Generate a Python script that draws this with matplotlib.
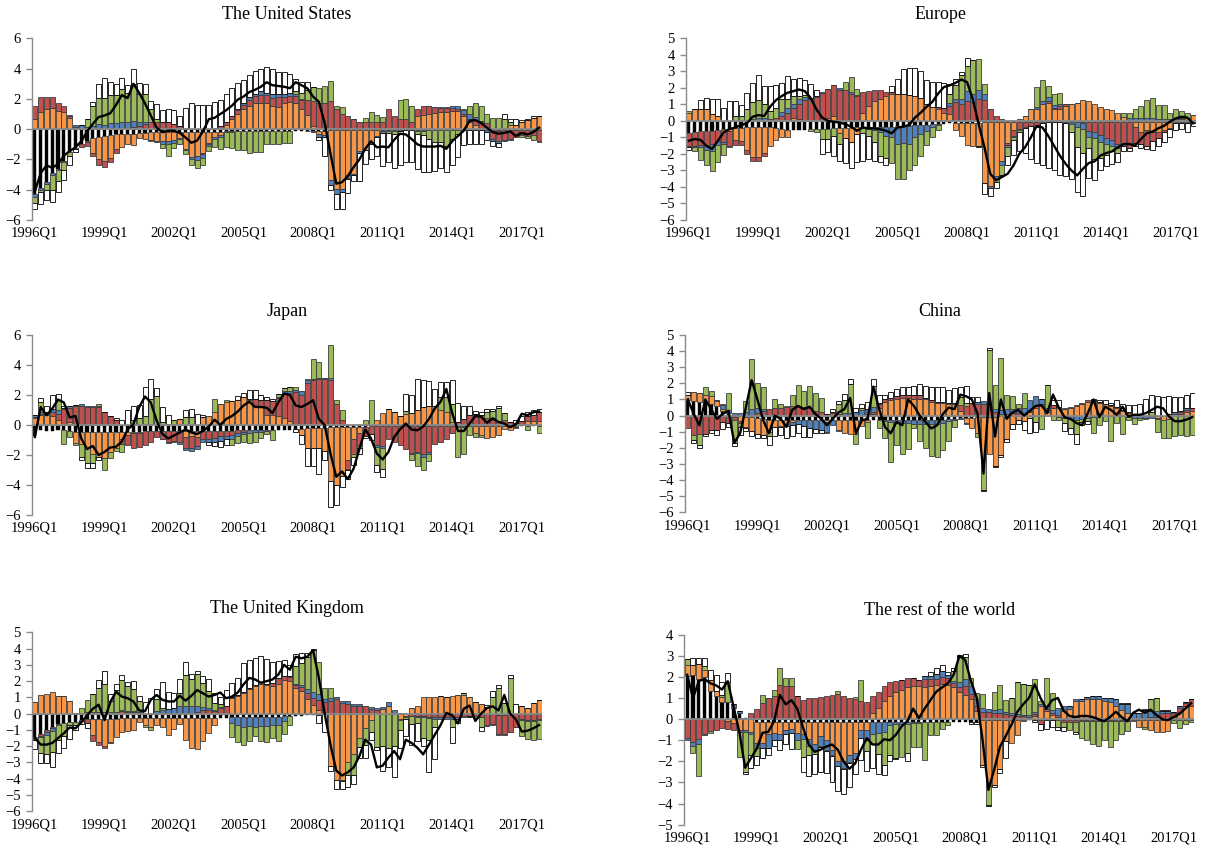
import numpy as np
import matplotlib

matplotlib.use("Agg")
import matplotlib.pyplot as plt

plt.rcParams["font.family"] = ["Liberation Serif", "DejaVu Serif"]

quarters = [f"{y}Q{q}" for y in range(1996, 2018) for q in range(1, 5)]

# ---- The United States ----
us_black = [-4.3, -3.9, -3.5, -2.9, -2.6, -2.1, -1.5, -1.25, -1.0, -0.8,
            -0.6, -0.5, -0.45, -0.4, -0.35, -0.3, -0.3, -0.3, -0.25, -0.25,
            -0.2, -0.2, -0.2, -0.2, -0.2, -0.2, -0.2, -0.2, -0.2, -0.2,
            -0.2, -0.2, -0.2, -0.15, -0.15, -0.15, -0.15, -0.15, -0.15, -0.15,
            -0.1, -0.1, -0.1, -0.1, -0.1, -0.1, -0.1, -0.1, -0.1, -0.1,
            -0.1, -0.05, -0.05, -0.05, -0.05, -0.05, -0.05, -0.05, -0.05, -0.05,
            -0.05, -0.05, -0.05, -0.05, -0.05, -0.05, -0.05, -0.05, -0.05, -0.05,
            -0.05, -0.05, -0.05, -0.05, -0.05, -0.05, -0.05, -0.05, -0.05, -0.05,
            -0.05, -0.05, -0.05, -0.05, -0.05, -0.05, -0.05, -0.05]
us_orange = [0.7, 1.15, 1.3, 1.4, 1.2, 1.1, 0.75, 0.1, 0.0, -0.05,
             -0.95, -1.5, -1.65, -1.5, -0.95, -0.85, -0.7, -0.75, -0.35, -0.4,
             -0.5, -0.55, -0.6, -0.55, -0.5, -0.4, -1.1, -1.65, -1.55, -1.4,
             -0.7, -0.3, -0.2, 0.25, 0.7, 1.0, 1.3, 1.5, 1.7, 1.7,
             1.7, 1.5, 1.45, 1.75, 1.8, 1.7, 1.3, 0.95, 0.2, -0.2,
             -0.3, -3.3, -3.9, -3.9, -3.0, -2.9, -1.4, -1.3, -0.9, -0.4,
             -0.1, -0.05, 0.0, 0.0, 0.0, 0.0, 0.85, 0.95, 1.0, 1.05,
             1.1, 1.15, 1.2, 1.2, 0.9, 0.5, 0.3, 0.1, 0.0, -0.1,
             -0.05, 0.1, 0.3, 0.3, 0.5, 0.6, 0.75, 0.85]
us_red = [0.8, 0.95, 0.85, 0.75, 0.5, 0.4, 0.15, 0.05, -0.15, -0.25,
          -0.25, -0.4, -0.4, -0.25, -0.3, 0.05, 0.1, 0.15, 0.2, 0.35,
          0.45, 0.5, 0.5, 0.5, 0.35, 0.2, 0.1, 0.0, -0.05, -0.05,
          -0.05, 0.1, 0.2, 0.25, 0.15, 0.25, 0.3, 0.45, 0.5, 0.55,
          0.55, 0.55, 0.7, 0.4, 0.4, 0.5, 0.6, 1.0, 1.65, 1.75,
          1.75, 1.85, 1.3, 1.0, 0.85, 0.65, 0.45, 0.5, 0.5, 0.5,
          0.5, 1.3, 0.85, 0.7, 0.7, 0.5, 0.45, 0.6, 0.5, 0.4,
          0.3, 0.25, 0.2, 0.15, 0.1, 0.2, 0.3, 0.35, 0.4, -0.5,
          -0.7, -0.65, -0.6, -0.5, -0.35, -0.4, -0.35, -0.75]
us_blue = [-0.15, -0.15, -0.15, -0.15, -0.1, -0.05, 0.05, 0.15, 0.25, 0.15,
           0.2, 0.35, 0.3, 0.4, 0.4, 0.4, 0.4, 0.4, 0.25, 0.1,
           -0.05, -0.1, -0.2, -0.25, -0.2, -0.05, -0.1, -0.15, -0.25, -0.25,
           -0.15, -0.15, -0.1, -0.05, -0.05, 0.1, 0.1, 0.15, 0.15, 0.25,
           0.15, 0.25, 0.15, 0.2, 0.2, 0.1, 0.1, -0.05, -0.1, -0.2,
           -0.15, -0.35, -0.35, -0.2, -0.2, -0.1, -0.1, -0.05, -0.05, -0.05,
           -0.1, -0.05, -0.1, -0.05, 0.0, 0.0, -0.05, -0.05, 0.0, 0.0,
           0.05, 0.05, 0.1, 0.2, 0.25, 0.3, 0.2, 0.1, -0.15, -0.15,
           -0.1, -0.05, -0.05, 0.0, 0.0, 0.0, 0.0, 0.0]
us_green = [-0.45, -0.1, -0.4, -0.95, -0.7, -0.55, -0.3, -0.05, 0.05, 0.55,
            1.3, 1.7, 1.75, 1.85, 1.85, 2.2, 1.9, 2.45, 1.9, 1.85,
            0.9, 0.2, -0.25, -0.75, -0.35, -0.3, -0.25, -0.35, -0.5, -0.45,
            -0.35, -0.55, -0.8, -1.0, -1.05, -1.2, -1.2, -1.4, -1.35, -1.35,
            -0.9, -0.9, -0.85, -0.8, -0.8, 0.2, 0.4, 0.65, 0.95, 1.0,
            1.1, 1.35, 0.2, 0.45, -0.05, 0.0, 0.0, 0.25, 0.6, 0.45,
            0.3, -0.1, -0.2, 1.25, 1.3, 1.05, -0.25, -0.3, -0.6, -0.8,
            -0.8, -1.05, -0.6, -0.3, 0.1, 0.5, 0.9, 1.0, 0.6, 0.75,
            0.75, 0.6, 0.2, 0.0, -0.1, -0.15, -0.3, -0.05]
us_white = [-0.4, -0.8, -0.6, -0.8, -0.75, -0.65, -0.6, -0.2, 0.0, 0.0,
            0.3, 0.95, 1.3, 0.85, 0.75, 0.75, 0.5, 1.0, 0.7, 0.65,
            0.5, 0.95, 0.75, 0.85, 0.9, 0.65, 1.3, 1.7, 1.6, 1.6,
            1.6, 1.7, 1.7, 1.8, 1.9, 1.7, 1.55, 1.5, 1.5, 1.5,
            1.7, 1.65, 1.45, 1.45, 1.25, 0.8, 0.7, 0.5, 0.0, -0.2,
            -1.2, -0.3, -1.0, -1.1, -0.9, -0.4, -1.9, -0.9, -1.0, -1.3,
            -2.2, -1.9, -2.2, -2.3, -2.1, -2.1, -2.3, -2.4, -2.2, -1.9,
            -1.7, -1.7, -1.7, -1.5, -1.0, -0.95, -0.9, -0.9, -0.5, -0.3,
            -0.3, 0.3, 0.2, 0.4, 0.1, 0.1, 0.1, 0.0]
us_line = [-4.1, -2.9, -2.4, -2.55, -2.3, -1.75, -1.45, -1.2, -0.8, -0.15,
           0.35, 0.8, 0.9, 1.05, 1.6, 2.25, 2.05, 3.0, 2.4, 1.7,
           0.9, 0.1, -0.2, -0.1, -0.1, -0.25, -0.55, -0.9, -0.75, -0.15,
           0.65, 0.75, 1.0, 1.25, 1.55, 1.95, 2.15, 2.45, 2.6, 2.8,
           3.1, 2.9, 2.85, 2.8, 2.7, 3.1, 2.9, 2.7, 2.15, 1.8,
           0.4, -1.6, -3.6, -3.5, -3.1, -2.5, -2.0, -1.3, -0.8, -1.2,
           -1.15, -1.2, -0.7, -0.3, -0.35, -0.65, -1.0, -1.15, -1.15, -1.15,
           -1.1, -1.3, -0.8, -0.45, -0.1, 0.55, 0.6, 0.4, 0.1, -0.2,
           -0.3, -0.25, -0.15, -0.45, -0.25, -0.35, -0.2, 0.1]

# ---- Europe ----
eu_black = [-0.75, -0.65, -0.6, -0.6, -0.6, -0.55, -0.5, -0.5, -0.45, -0.45,
            -0.4, -0.4, -0.4, -0.4, -0.4, -0.45, -0.5, -0.55, -0.55, -0.55,
            -0.55, -0.5, -0.5, -0.5, -0.5, -0.45, -0.45, -0.45, -0.45, -0.4,
            -0.4, -0.4, -0.4, -0.35, -0.35, -0.35, -0.3, -0.3, -0.3, -0.25,
            -0.25, -0.25, -0.2, -0.2, -0.2, -0.15, -0.15, -0.1, -0.1, -0.1,
            -0.1, -0.05, -0.05, -0.05, -0.05, -0.05, -0.05, -0.05, -0.05, -0.05,
            -0.05, -0.05, -0.05, -0.05, -0.05, -0.05, -0.05, -0.05, -0.05, -0.05,
            -0.05, -0.05, -0.05, -0.05, -0.05, -0.05, -0.05, -0.05, -0.05, -0.05,
            -0.05, -0.05, -0.05, -0.05, -0.05, -0.05, -0.05, -0.05]
eu_orange = [0.45, 0.75, 0.7, 0.7, 0.4, 0.3, 0.0, -0.1, -0.7, -0.75,
             -1.35, -1.8, -1.8, -1.55, -1.1, -0.7, -0.45, -0.4, 0.2, 0.1,
             0.0, 0.0, 0.0, 0.0, 0.2, 0.3, -0.3, -0.6, -0.85, -0.4,
             0.5, 0.9, 1.2, 1.35, 1.5, 1.6, 1.65, 1.6, 1.55, 1.5,
             1.4, 1.0, 0.85, 0.75, 0.5, 0.4, -0.4, -0.8, -1.35, -1.45,
             -1.4, -3.7, -3.9, -3.3, -2.4, -1.3, -0.5, 0.1, 0.3, 0.7,
             0.75, 1.0, 1.1, 0.7, 0.7, 0.9, 1.0, 1.1, 1.25, 1.2,
             1.0, 0.85, 0.75, 0.65, 0.5, 0.25, 0.05, -0.3, -0.6, -0.5,
             -0.6, -0.65, -0.5, -0.4, 0.05, 0.1, 0.2, 0.35]
eu_red = [-0.75, -0.85, -0.85, -0.9, -0.8, -0.65, -0.8, -0.9, -0.3, -0.25,
          -0.25, -0.25, -0.25, -0.15, 0.0, 0.15, 0.3, 0.5, 0.6, 0.9,
          1.25, 1.35, 1.45, 1.7, 1.75, 1.9, 1.9, 1.85, 1.6, 1.5,
          1.25, 0.9, 0.7, 0.5, 0.25, 0.15, 0.0, 0.0, 0.0, 0.0,
          0.0, 0.0, 0.0, 0.1, 0.3, 0.5, 1.15, 1.05, 1.2, 1.15,
          1.3, 1.25, 0.7, 0.3, 0.1, -0.1, -0.35, -0.45, -0.3, -0.25,
          -0.3, -0.1, 0.1, 0.1, 0.2, 0.1, 0.05, 0.0, -0.1, -0.55,
          -0.6, -0.8, -1.0, -1.1, -1.35, -1.35, -1.6, -1.0, -0.75, -0.95,
          -0.55, -0.35, -0.15, -0.05, -0.05, -0.05, -0.05, -0.05]
eu_blue = [-0.1, -0.1, -0.15, -0.25, -0.4, -0.25, -0.1, -0.05, 0.0, 0.05,
           0.05, 0.1, 0.2, 0.15, 0.1, 0.05, 0.25, 0.3, 0.25, 0.3,
           0.2, 0.05, 0.05, 0.05, 0.0, 0.0, 0.1, 0.0, 0.15, 0.05,
           -0.05, -0.1, -0.15, -0.35, -0.55, -0.65, -1.1, -1.05, -1.1, -0.75,
           -0.55, -0.35, -0.2, -0.05, 0.0, 0.2, 0.2, 0.3, 0.6, 0.5,
           0.6, 0.4, -0.1, -0.15, -0.2, -0.15, -0.05, -0.05, 0.0, 0.0,
           0.1, 0.2, 0.25, 0.15, 0.15, 0.0, -0.15, -0.35, -0.35, -0.35,
           -0.4, -0.4, -0.35, -0.35, -0.25, -0.1, 0.1, 0.15, 0.15, 0.15,
           0.15, 0.1, 0.1, 0.1, 0.05, 0.05, 0.0, 0.0]
eu_green = [0.15, -0.25, -0.75, -0.95, -1.25, -1.05, -0.65, -0.05, 0.3, 0.25,
            0.65, 1.05, 1.05, 0.85, 0.5, 0.6, 0.75, 0.5, 0.45, 0.2,
            0.1, -0.1, -0.2, -0.6, -0.6, -0.45, -0.65, 0.5, 0.9, 0.4,
            -0.3, -0.4, -0.75, -1.45, -1.35, -1.55, -2.1, -2.15, -1.6, -1.7,
            -1.35, -0.85, -0.6, -0.3, 0.0, 0.55, 0.85, 1.4, 1.55, 2.05,
            1.85, 0.6, 0.0, -0.2, -0.6, -0.5, -0.2, -0.15, -0.1, 0.0,
            1.2, 1.25, 0.65, 0.7, 0.65, -0.1, -0.5, -1.2, -1.45, -0.7,
            -1.25, -1.0, -0.65, -0.3, -0.3, 0.25, 0.3, 0.55, 0.75, 1.1,
            1.25, 0.85, 0.85, 0.4, 0.6, 0.45, 0.3, 0.0]
eu_white = [-0.15, 0.0, 0.55, 0.7, 0.9, 1.0, 0.8, 1.2, 0.9, 0.65,
            1.0, 1.15, 1.5, 1.1, 1.5, 1.4, 1.0, 1.4, 1.05, 1.1,
            0.9, 0.85, 0.4, -0.9, -0.8, -1.25, -1.0, -1.5, -1.55, -1.7,
            -1.7, -1.4, -1.15, -0.35, -0.4, 0.35, 0.9, 1.55, 1.65, 1.7,
            1.6, 1.45, 1.5, 1.5, 1.5, 0.6, 0.35, 0.2, 0.45, 0.0,
            -0.1, -0.7, -0.5, -0.35, -0.1, -0.6, -0.9, -1.1, -1.5, -2.0,
            -2.2, -2.55, -2.8, -2.95, -3.2, -3.2, -2.8, -2.7, -2.6, -1.8,
            -1.25, -0.7, -0.7, -0.8, -0.55, -0.3, -0.2, -0.2, -0.25, -0.2,
            -0.55, -0.5, -0.55, -0.5, -0.45, -0.4, -0.6, -0.2]
eu_line = [-1.2, -1.1, -1.15, -1.5, -1.7, -1.2, -0.7, -0.5, -0.4, -0.25,
           -0.15, 0.25, 0.35, 0.3, 0.85, 1.25, 1.5, 1.7, 1.8, 1.9,
           1.8, 1.4, 0.7, 0.2, 0.0, -0.05, -0.1, -0.2, -0.35, -0.6,
           -0.4, -0.45, -0.45, -0.5, -0.6, -0.75, -0.4, -0.35, -0.25, 0.2,
           0.5, 0.85, 1.15, 1.65, 2.05, 2.15, 2.3, 2.5, 2.35, 1.3,
           -0.2, -1.6, -3.2, -3.6, -3.4, -3.2, -2.7, -2.0, -1.6, -1.0,
           -0.3, -0.4, -0.9, -1.5, -2.1, -2.6, -3.0, -3.3, -2.9, -2.55,
           -2.45, -2.1, -1.95, -1.85, -1.6, -1.4, -1.4, -1.5, -1.1, -0.75,
           -0.65, -0.45, -0.3, -0.05, 0.15, 0.25, 0.2, -0.15]

# ---- Japan ----
jp_black = [-0.75, -0.35, -0.4, -0.4, -0.35, -0.35, -0.4, -0.45, -0.45, -0.45,
            -0.45, -0.45, -0.45, -0.45, -0.45, -0.45, -0.45, -0.45, -0.45, -0.4,
            -0.4, -0.4, -0.4, -0.4, -0.4, -0.4, -0.4, -0.4, -0.4, -0.4,
            -0.4, -0.4, -0.4, -0.4, -0.4, -0.35, -0.35, -0.35, -0.35, -0.35,
            -0.3, -0.3, -0.3, -0.3, -0.3, -0.25, -0.25, -0.2, -0.2, -0.2,
            -0.2, -0.15, -0.1, -0.1, -0.1, -0.1, -0.1, -0.1, -0.05, -0.05,
            -0.05, -0.05, -0.05, -0.05, -0.05, -0.05, -0.05, -0.05, -0.05, -0.05,
            -0.05, -0.05, -0.05, -0.05, -0.05, -0.05, -0.05, -0.05, -0.05, -0.05,
            -0.05, -0.05, -0.05, -0.05, -0.05, -0.05, -0.05, -0.05]
jp_orange = [0.5, 0.7, 0.7, 0.6, 0.35, 0.1, 0.2, -0.75, -0.8, -1.1,
             -1.5, -1.7, -1.75, -1.35, -1.05, -0.5, -0.2, -0.1, -0.05, 0.0,
             0.0, 0.05, 0.1, 0.05, 0.1, 0.4, -0.4, -0.3, -0.4, 0.55,
             0.6, 0.9, 1.4, 1.55, 1.6, 1.7, 1.85, 1.7, 1.3, 1.25,
             0.7, 0.65, 0.6, 0.5, 0.3, 0.1, -0.4, -1.35, -1.35, -1.35,
             -1.5, -3.6, -3.9, -3.3, -2.2, -0.85, -0.4, 0.0, 0.0, 0.35,
             0.8, 1.1, 0.9, 0.6, 0.75, 0.8, 1.0, 1.2, 1.25, 1.3,
             1.0, 0.9, 0.2, 0.0, 0.0, 0.0, -0.45, -0.6, -0.8, -0.75,
             -0.6, -0.2, -0.3, -0.1, 0.1, 0.3, 0.3, 0.3]
jp_red = [0.05, 0.05, 0.05, 0.25, 0.4, 0.95, 0.95, 1.25, 1.3, 1.2,
          1.2, 1.2, 0.85, 0.6, 0.35, -0.3, -0.7, -0.95, -0.95, -0.95,
          -0.7, -0.4, -0.5, -0.75, -0.65, -0.75, -0.75, -0.85, -0.6, -0.5,
          -0.5, -0.45, -0.35, -0.3, -0.25, -0.15, -0.1, 0.05, 0.45, 0.45,
          1.0, 0.95, 1.2, 1.65, 1.85, 2.1, 2.0, 2.8, 3.0, 3.05,
          3.1, 3.0, 1.4, 0.35, -0.6, -1.0, -0.9, -0.6, -0.55, -1.3,
          -1.35, -0.9, -1.05, -1.3, -1.55, -1.8, -1.75, -1.9, -1.75, -1.2,
          -1.1, -0.9, -0.45, 0.2, 0.4, 0.65, 0.75, 0.7, 0.5, 0.35,
          0.3, 0.35, 0.2, 0.15, 0.2, 0.3, 0.4, 0.6]
jp_blue = [0.1, 0.1, 0.15, 0.2, 0.25, 0.1, 0.1, 0.1, 0.1, 0.05,
           0.05, 0.05, 0.0, 0.0, 0.0, 0.0, 0.0, 0.0, 0.0, 0.05,
           0.05, 0.05, -0.05, -0.05, -0.1, -0.1, -0.1, -0.15, -0.2, -0.2,
           -0.2, -0.25, -0.3, -0.25, -0.25, -0.2, -0.15, -0.15, -0.1, -0.1,
           -0.1, -0.05, 0.05, 0.1, 0.15, 0.15, 0.25, 0.2, 0.1, 0.1,
           0.05, 0.15, 0.0, 0.0, 0.0, 0.0, 0.0, 0.0, 0.0, -0.1,
           -0.1, 0.0, 0.0, 0.0, 0.0, -0.05, -0.05, -0.15, -0.1, 0.0,
           0.0, 0.0, -0.05, -0.1, -0.05, 0.0, 0.0, 0.0, 0.0, 0.0,
           0.0, 0.0, 0.0, 0.0, 0.0, 0.0, 0.0, 0.0]
jp_green = [0.0, 0.7, 0.0, 0.0, 0.7, -0.9, -0.4, -0.1, -0.9, -1.0,
            -0.6, 0.15, -0.8, -0.4, -0.25, -0.55, 0.0, 0.35, 0.5, 0.55,
            1.7, 1.85, 0.1, 0.0, 0.25, 0.0, 0.55, 0.55, 0.0, 0.0,
            0.0, 0.85, 0.0, 0.15, -0.4, -0.5, -0.5, -0.7, -0.65, -0.4,
            -0.2, -0.65, 0.25, 0.25, 0.25, 0.2, 0.0, 0.1, 1.3, 1.05,
            0.0, 2.2, 0.3, 0.65, -0.1, -0.15, -0.1, 0.35, 1.7, -1.2,
            -1.45, 0.0, 0.0, 0.0, 0.2, -0.45, -0.9, -0.9, -0.5, 0.0,
            0.9, 1.0, 1.2, -2.0, -1.85, -0.6, -0.3, -0.15, 0.4, 0.6,
            0.85, 0.45, 0.0, -0.05, 0.0, -0.3, 0.0, -0.45]
jp_white = [0.0, 0.25, 0.4, 0.95, 0.35, 0.1, 0.0, 0.0, -0.2, -0.3,
            -0.3, -0.2, 0.0, 0.0, 0.1, 0.35, 1.0, 0.95, 0.85, 1.95,
            1.35, 0.5, 1.0, 0.6, 0.0, 0.0, 0.45, 0.55, 0.75, 0.15,
            -0.2, -0.3, -0.4, -0.4, 0.0, 0.25, 0.3, 0.6, 0.6, 0.3,
            0.2, 0.15, 0.0, 0.0, 0.0, -0.2, -0.6, -1.2, -1.2, -1.7,
            -0.6, -1.7, -1.3, -0.75, -0.6, -0.55, -0.4, -0.15, -0.4, -0.5,
            -0.5, 0.0, 0.0, 0.0, 1.1, 1.2, 2.1, 1.8, 1.7, 1.1,
            0.95, 1.0, 1.6, 1.3, 0.9, 0.65, 0.2, 0.2, 0.15, 0.1,
            0.15, 0.0, 0.0, 0.2, 0.3, 0.25, 0.3, 0.2]
jp_line = [-0.8, 1.2, 0.65, 1.1, 1.7, 1.5, 0.5, 0.6, -0.9, -1.6,
           -1.4, -2.0, -1.8, -1.5, -1.45, -1.1, -0.3, 0.05, 1.2, 1.9,
           1.5, 0.3, -0.6, -0.9, -0.7, -0.5, -0.3, -0.5, -0.6, -0.4,
           -0.1, 0.35, 0.0, 0.4, 0.6, 0.9, 1.3, 1.55, 1.2, 1.2,
           1.15, 0.8, 1.5, 2.1, 2.0, 1.3, 1.2, 1.4, 1.65, 0.4,
           0.0, -1.9, -3.45, -3.1, -3.6, -2.9, -1.6, -0.3, -0.9, -1.9,
           -2.3, -1.8, -0.8, -0.3, 0.1, -0.3, -0.35, -0.1, 0.4, 1.1,
           1.55, 2.4, 0.8, -0.4, -0.4, 0.1, 0.6, 0.55, 0.15, 0.45,
           0.2, 0.1, -0.15, 0.05, 0.75, 0.65, 0.85, 0.9]

# ---- China ----
cn_black = [0.95, 0.9, 0.85, 0.85, 0.75, 0.6, 0.3, 0.15, 0.05, -0.05,
            -0.1, -0.1, -0.15, -0.2, -0.25, -0.25, -0.3, -0.3, -0.3, -0.3,
            -0.3, -0.3, -0.3, -0.3, -0.3, -0.3, -0.3, -0.3, -0.3, -0.3,
            -0.3, -0.3, -0.3, -0.3, -0.3, -0.3, -0.3, -0.3, -0.3, -0.3,
            -0.3, -0.3, -0.3, -0.25, -0.25, -0.2, -0.2, -0.15, -0.15, -0.15,
            -0.1, -0.1, -0.1, -0.1, -0.05, -0.05, -0.05, -0.05, -0.05, -0.05,
            -0.05, -0.05, -0.05, -0.05, -0.05, -0.05, -0.05, -0.05, -0.05, -0.05,
            -0.05, -0.05, -0.05, -0.05, -0.05, -0.05, -0.05, -0.05, -0.05, -0.05,
            -0.05, -0.05, -0.05, -0.05, -0.05, -0.05, -0.05, -0.05]
cn_orange = [0.35, 0.55, 0.55, 0.45, 0.45, 0.3, 0.1, -0.05, -0.1, -0.3,
             -0.6, -0.85, -1.0, -1.0, -0.75, -0.45, -0.35, -0.25, -0.1, 0.0,
             0.0, 0.0, 0.0, 0.0, -0.1, 0.05, -0.6, -0.8, -0.85, -0.85,
             -0.35, -0.1, 0.1, 0.5, 0.85, 0.95, 1.05, 1.1, 1.1, 1.05,
             1.05, 1.0, 0.85, 0.8, 0.8, 0.75, 0.7, 0.3, -0.3, -0.65,
             -1.0, -2.6, -2.3, -3.0, -2.4, -1.4, -0.5, -0.25, -0.3, 0.2,
             0.5, 0.6, 0.25, 0.5, 0.45, 0.4, 0.5, 0.6, 0.75, 0.85,
             0.9, 0.8, 0.7, 0.6, 0.5, 0.3, 0.15, 0.1, 0.05, 0.0,
             0.0, -0.1, -0.2, -0.15, 0.0, 0.1, 0.2, 0.3]
cn_red = [-0.8, -1.2, -1.15, -1.15, -0.9, -0.9, -0.4, -0.4, -0.15, -0.1,
          -0.05, 0.05, 0.15, 0.3, 0.4, 0.45, 0.5, 0.55, 0.6, 0.6,
          0.55, 0.45, 0.3, 0.2, 0.1, 0.1, 0.1, 0.05, 0.0, 0.0,
          0.05, 0.1, 0.1, 0.2, 0.15, 0.15, 0.15, 0.15, 0.15, 0.2,
          0.2, 0.1, 0.1, 0.05, 0.05, 0.05, 0.1, 0.35, 0.6, 0.8,
          0.75, 0.75, 0.4, 0.2, 0.1, 0.1, 0.15, 0.15, 0.1, 0.1,
          0.1, 0.1, 0.1, 0.15, 0.1, 0.05, 0.05, 0.05, 0.05, 0.1,
          0.05, 0.05, 0.05, 0.05, 0.05, 0.05, 0.05, 0.0, 0.0, 0.0,
          0.0, 0.0, 0.0, 0.05, 0.1, 0.1, 0.15, 0.15]
cn_blue = [0.0, 0.0, 0.0, 0.0, 0.0, 0.05, 0.25, 0.2, 0.1, 0.15,
           0.25, 0.35, 0.3, 0.1, 0.0, 0.0, -0.05, -0.1, -0.2, -0.25,
           -0.35, -0.45, -0.55, -0.6, -0.6, -0.3, -0.05, 0.1, 0.15, 0.2,
           0.3, 0.3, 0.35, 0.1, -0.05, -0.1, -0.1, -0.15, -0.15, -0.2,
           -0.25, -0.25, -0.25, -0.25, -0.2, -0.15, -0.1, -0.05, -0.05, 0.0,
           0.1, 0.15, 0.15, 0.2, 0.25, 0.3, 0.25, 0.3, 0.4, 0.65,
           0.6, 0.3, 0.1, 0.0, -0.05, -0.1, -0.15, -0.2, -0.15, -0.1,
           -0.05, 0.0, 0.0, 0.0, 0.0, 0.0, -0.05, -0.1, -0.1, -0.1,
           -0.1, -0.05, 0.0, 0.05, 0.1, 0.1, 0.1, 0.05]
cn_green = [0.0, -0.3, -0.7, 0.5, 0.3, 0.0, 0.05, 1.05, -1.45, -0.25,
            0.65, 3.1, 1.6, 1.35, -0.25, 0.55, 0.25, 0.05, 0.65, 1.3,
            0.95, 1.4, 1.1, 0.9, -0.1, 0.05, 0.6, 0.8, 1.8, -0.6,
            0.1, -1.0, 1.3, -0.5, -1.05, -2.45, -1.45, -1.95, -1.6, -0.3,
            -1.0, -1.45, -1.95, -2.1, -1.7, -1.2, -0.4, 0.5, 0.2, 0.0,
            -0.2, -1.9, 3.5, 1.5, 3.2, 0.9, 0.8, 0.3, 0.9, -0.1,
            -0.35, -0.8, 1.45, -0.2, -0.15, -0.3, -0.55, -0.9, -0.2, -0.2,
            -1.0, -0.55, -0.3, -1.5, -0.4, -1.1, -0.2, -0.35, -0.1, -0.05,
            0.2, -0.8, -1.15, -1.2, -1.2, -1.15, -1.2, -1.15]
cn_white = [0.15, -0.2, -0.15, -0.1, -0.2, -0.3, -0.45, -0.25, -0.2, -0.5,
            -0.2, -0.3, -0.25, -0.2, -0.55, -0.55, -0.5, -0.75, -0.65, -0.55,
            -0.7, -0.55, -0.25, -0.2, 0.0, 0.2, 0.2, 0.4, 0.3, 0.3,
            0.3, 0.45, 0.4, 0.5, 0.3, 0.35, 0.45, 0.5, 0.55, 0.6,
            0.7, 0.75, 0.8, 0.95, 0.95, 0.8, 0.9, 0.6, 1.05, 0.35,
            0.3, -0.1, 0.15, -0.1, -0.1, -0.2, -0.3, -0.2, -0.55, -0.9,
            -0.6, 0.0, 0.0, 0.3, 0.4, -0.5, -0.4, -0.6, -0.2, -0.2,
            0.1, 0.1, 0.2, 0.15, 0.4, 0.35, 0.45, 0.55, 0.7, 1.05,
            1.1, 1.2, 1.15, 1.1, 0.95, 0.85, 0.85, 0.9]
cn_line = [1.0, 0.1, -0.6, 1.0, 0.4, -0.2, 0.1, 0.3, -1.7, -1.1,
           0.5, 2.2, 1.0, -0.3, -1.1, 0.0, -0.2, -0.7, 0.35, 0.6,
           0.4, 0.55, 0.1, -0.2, -0.6, -0.2, 0.2, 0.4, 1.1, -1.1,
           -0.3, -0.2, 1.8, 0.4, -0.7, -1.1, -0.4, -0.6, 1.0, 0.6,
           0.0, -0.4, -0.8, -0.6, 0.1, 0.5, 0.4, 1.3, 1.2, 1.0,
           0.1, -3.6, 1.4, -1.3, 1.0, -0.2, 0.2, 0.35, 0.0, 0.3,
           0.6, 0.65, 0.15, 1.3, 0.5, -0.1, -0.2, -0.45, -0.6, 0.15,
           1.0, -0.1, 0.55, 0.35, 0.05, 0.55, -0.05, 0.05, 0.05, 0.15,
           0.35, 0.55, 0.45, -0.05, -0.35, -0.35, -0.25, -0.1]

# ---- The United Kingdom ----
uk_black = [-1.45, -1.25, -1.0, -0.85, -0.65, -0.55, -0.5, -0.5, -0.4, -0.3,
            -0.3, -0.3, -0.3, -0.3, -0.3, -0.25, -0.25, -0.25, -0.25, -0.25,
            -0.25, -0.25, -0.25, -0.25, -0.25, -0.25, -0.25, -0.25, -0.25, -0.25,
            -0.25, -0.25, -0.25, -0.25, -0.2, -0.2, -0.2, -0.2, -0.2, -0.2,
            -0.2, -0.2, -0.2, -0.15, -0.15, -0.15, -0.15, -0.1, -0.1, -0.1,
            -0.05, -0.05, -0.05, -0.05, -0.05, -0.05, -0.05, -0.05, -0.05, -0.05,
            -0.05, -0.05, -0.05, -0.05, -0.05, -0.05, -0.05, -0.05, -0.05, -0.05,
            -0.05, -0.05, -0.05, -0.05, -0.05, -0.05, -0.05, -0.05, -0.05, -0.05,
            -0.05, -0.05, -0.05, -0.05, -0.05, -0.05, -0.05, -0.05]
uk_orange = [0.7, 1.15, 1.2, 1.35, 1.1, 1.1, 0.75, 0.05, 0.0, 0.0,
             -1.0, -1.45, -1.7, -1.45, -1.15, -0.9, -0.8, -0.75, -0.25, -0.45,
             -0.6, -0.45, -0.6, -1.05, -0.7, -0.4, -1.35, -1.85, -1.95, -1.4,
             -0.95, -0.45, 0.0, 0.0, 0.95, 1.1, 1.3, 1.5, 1.7, 1.85,
             1.75, 1.7, 1.85, 2.05, 2.0, 1.55, 1.4, 0.9, 0.55, 0.2,
             0.0, -3.15, -4.05, -4.0, -2.95, -2.45, -1.45, -0.85, -0.35, 0.0,
             0.3, 0.5, 0.0, -0.3, -0.1, 0.35, 0.5, 1.0, 1.05, 1.05,
             1.1, 1.05, 1.1, 1.15, 1.15, 1.0, 0.7, 0.6, 0.4, 0.0,
             -0.05, -0.05, 0.0, 0.0, 0.45, 0.35, 0.65, 0.85]
uk_red = [-0.1, -0.1, -0.15, -0.05, 0.0, 0.0, 0.0, 0.0, -0.05, -0.3,
          -0.35, -0.2, -0.1, -0.05, 0.0, 0.15, 0.1, 0.1, 0.05, 0.0,
          0.0, 0.05, 0.05, 0.05, 0.05, 0.05, 0.05, 0.05, 0.1, 0.2,
          0.2, 0.15, 0.35, 0.45, 0.1, 0.05, 0.05, 0.05, 0.05, 0.1,
          0.1, 0.2, 0.35, 0.25, 0.25, 0.2, 0.25, 0.4, 0.4, 0.65,
          0.7, 0.75, 0.9, 0.65, 0.6, 0.5, 0.45, 0.45, 0.3, 0.2,
          0.0, 0.0, 0.0, -0.05, -0.05, -0.1, -0.1, -0.1, -0.15, -0.15,
          -0.15, -0.15, -0.15, -0.15, -0.1, -0.1, -0.1, -0.15, -0.65, -0.6,
          -1.15, -1.15, -1.05, -0.75, -0.3, -0.35, -0.35, -0.3]
uk_blue = [-0.05, -0.1, -0.15, -0.15, -0.05, 0.0, 0.0, 0.0, 0.05, 0.1,
           0.1, 0.1, 0.1, 0.1, 0.1, 0.05, 0.05, 0.05, 0.05, 0.0,
           0.05, 0.1, 0.2, 0.25, 0.3, 0.4, 0.45, 0.4, 0.35, 0.2,
           0.15, 0.1, 0.05, 0.0, -0.4, -0.5, -0.6, -0.55, -0.6, -0.55,
           -0.55, -0.5, -0.5, -0.3, 0.05, 0.1, 0.1, 0.2, 0.4, 0.35,
           0.2, 0.2, 0.15, 0.15, 0.15, 0.1, 0.15, 0.05, 0.1, 0.15,
           0.1, 0.2, 0.25, 0.05, 0.0, 0.0, -0.05, -0.05, -0.05, -0.1,
           -0.1, -0.1, -0.1, -0.1, -0.05, 0.0, 0.0, 0.0, -0.05, -0.05,
           -0.05, -0.05, -0.05, -0.05, -0.05, -0.05, -0.05, -0.05]
uk_green = [0.0, -0.95, -1.15, -1.3, -0.9, -0.8, -0.2, -0.2, 0.3, 0.75,
            1.1, 1.45, 1.7, 0.7, 1.35, 1.85, 1.55, 1.35, 0.7, -0.15,
            -0.15, 0.75, 0.1, 0.0, 0.0, 0.85, 1.85, 1.65, 2.0, 1.5,
            1.05, 0.4, 0.2, 0.0, -0.85, -1.05, -1.1, -0.95, -0.6, -0.95,
            -1.0, -0.8, -0.95, -0.8, -0.55, 1.05, 1.35, 2.0, 2.55, 2.0,
            0.7, 0.65, 0.0, -0.1, -0.8, -1.3, -0.55, -1.0, -0.7, -2.0,
            -1.95, -2.05, -1.95, -0.6, -0.1, -0.5, -0.35, -1.3, -1.35, -0.5,
            -0.05, 0.0, -0.5, 0.0, 0.1, 0.0, -0.1, -0.6, 0.0, 1.0,
            1.6, 0.65, 2.2, 0.0, -0.95, -1.1, -1.15, -1.15]
uk_white = [-0.55, -0.65, -0.6, -0.9, -0.8, -0.75, -0.85, -0.3, -0.2, -0.3,
            0.0, 0.5, 0.8, 0.4, 0.35, 0.35, 0.25, 0.5, 0.3, 0.7,
            0.9, 0.6, 1.6, 1.05, 0.95, 0.8, 0.85, 0.35, 0.15, 0.4,
            0.7, 0.6, 0.45, 1.0, 0.85, 1.05, 1.75, 1.75, 1.7, 1.6,
            1.5, 1.3, 1.05, 1.0, 0.7, 0.75, 0.6, 0.2, 0.1, -0.5,
            -1.1, -0.3, -0.5, -0.5, -0.7, -0.5, -0.65, -0.85, -0.5, -0.2,
            -1.5, -1.2, -1.9, -1.1, -1.1, -1.3, -1.1, -0.5, -2.0, -2.0,
            0.0, 0.0, -1.0, -0.3, 0.0, -0.05, 0.0, -0.25, 0.15, 0.4,
            0.15, 0.0, 0.15, 0.6, 0.0, 0.0, 0.0, 0.0]
uk_line = [-1.5, -1.9, -1.9, -1.8, -1.5, -1.2, -0.85, -0.9, -0.55, -0.1,
           0.3, 0.55, -0.4, 0.7, 1.35, 1.05, 0.95, 0.75, 0.2, 0.15,
           0.85, 1.15, 0.85, 0.75, 0.75, 1.1, 0.8, 1.1, 1.45, 1.25,
           1.05, 1.15, 1.3, 0.95, 1.05, 1.3, 1.8, 2.2, 2.1, 1.9,
           2.0, 2.1, 2.4, 3.0, 2.7, 3.5, 3.4, 3.5, 3.9, 2.2,
           0.0, -1.9, -3.5, -3.8, -3.6, -3.3, -2.6, -1.6, -1.9, -3.3,
           -3.2, -2.7, -2.3, -2.8, -1.6, -1.8, -2.1, -2.5, -1.9, -1.3,
           -0.7, 0.05, -0.1, -0.6, 0.3, 0.5, -0.45, 0.0, 0.35, 0.45,
           0.2, 1.15, 0.0, -0.35, -1.1, -1.05, -0.9, -0.7]

# ---- The rest of the world ----
rw_black = [2.05, 2.1, 1.9, 2.0, 1.35, 1.1, 0.8, 0.8, 0.55, 0.3,
            0.05, 0.0, -0.15, -0.15, -0.15, -0.15, -0.15, -0.15, -0.15, -0.15,
            -0.15, -0.15, -0.15, -0.15, -0.15, -0.15, -0.15, -0.15, -0.15, -0.15,
            -0.15, -0.15, -0.15, -0.15, -0.15, -0.15, -0.15, -0.15, -0.15, -0.15,
            -0.15, -0.15, -0.15, -0.15, -0.15, -0.15, -0.15, -0.15, -0.15, -0.15,
            -0.15, -0.05, -0.05, -0.05, -0.05, -0.05, -0.05, -0.05, -0.05, -0.05,
            -0.05, -0.05, -0.05, -0.05, -0.05, -0.05, -0.05, -0.05, -0.05, -0.05,
            -0.05, -0.05, -0.05, -0.05, -0.05, -0.05, -0.05, -0.05, -0.05, -0.05,
            -0.05, -0.05, -0.05, -0.05, -0.05, -0.05, -0.05, -0.05]
rw_orange = [0.5, 0.45, 0.7, 0.35, 0.5, 0.25, 0.25, -0.1, -0.2, -0.5,
             -0.5, -0.6, -1.0, -1.0, -0.55, -0.5, -0.55, -0.35, -0.3, -0.5,
             -0.55, -0.8, -1.05, -0.65, -0.85, -1.3, -1.85, -1.85, -1.55, -1.45,
             -0.35, -0.35, 0.3, 0.55, 0.85, 1.1, 1.3, 1.4, 1.5, 1.55,
             1.55, 1.5, 1.55, 1.6, 1.65, 1.6, 1.5, 1.3, 1.15, 0.95,
             0.4, -2.1, -3.1, -3.05, -2.3, -1.0, -1.1, -0.7, -0.05, 0.0,
             0.15, 0.6, 0.4, 0.2, 0.1, 0.4, 0.5, 0.85, 0.85, 0.95,
             0.95, 0.95, 0.85, 0.8, 0.6, 0.45, 0.3, 0.05, -0.3, -0.3,
             -0.45, -0.55, -0.55, -0.5, 0.1, 0.35, 0.6, 0.6]
rw_red = [-0.9, -1.1, -0.95, -0.7, -0.55, -0.5, -0.4, -0.35, -0.3, -0.1,
          0.0, 0.3, 0.5, 0.75, 1.0, 1.1, 1.6, 1.55, 1.55, 1.1,
          0.9, 1.0, 1.0, 1.05, 1.1, 1.15, 1.2, 1.1, 1.0, 0.95,
          0.85, 0.8, 0.8, 0.75, 0.7, 0.65, 0.5, 0.45, 0.45, 0.4,
          0.3, 0.4, 0.35, 0.3, 0.35, 0.35, 0.2, 0.2, 0.4, 0.25,
          0.2, 0.35, 0.35, 0.3, 0.3, 0.25, 0.2, 0.15, 0.15, 0.1,
          0.1, -0.2, 0.1, 0.1, 0.1, -0.1, -0.1, -0.1, -0.05, -0.05,
          -0.05, -0.05, -0.05, -0.05, -0.05, -0.05, -0.05, 0.0, 0.05, 0.05,
          0.1, 0.1, 0.3, 0.3, 0.2, 0.2, 0.15, 0.35]
rw_blue = [-0.1, -0.15, -0.25, -0.05, 0.0, 0.0, 0.0, 0.0, 0.15, 0.1,
           -0.1, -0.1, -0.2, -0.2, -0.65, -0.35, -0.3, -0.2, -0.2, -0.35,
           -0.25, -0.3, -0.25, -0.45, -0.45, -0.25, -0.2, -0.3, -0.35, -0.3,
           -0.4, -0.5, -0.55, -0.5, -0.45, -0.15, -0.1, -0.1, -0.1, -0.05,
           -0.05, 0.15, 0.15, 0.25, 0.3, 0.15, 0.1, 0.25, 0.35, 0.35,
           0.35, 0.2, 0.15, 0.15, 0.2, 0.1, 0.1, 0.1, 0.05, 0.1,
           0.1, 0.1, 0.1, 0.15, 0.35, 0.2, 0.1, 0.1, 0.1, 0.1,
           0.15, 0.15, 0.15, 0.2, 0.35, 0.25, 0.4, 0.25, 0.25, 0.4,
           0.3, 0.3, 0.1, 0.1, 0.05, 0.05, 0.05, 0.0]
rw_green = [0.3, -0.35, -1.5, 0.15, -0.1, 0.0, 0.1, 0.95, 0.0, -1.2,
            -1.9, -1.0, -0.4, 0.4, 0.0, 0.3, 0.8, 0.4, 0.4, -0.4,
            -0.85, -0.45, -0.2, -0.05, -0.05, -0.05, 0.15, -0.05, -0.05, 0.1,
            1.0, -0.5, -0.5, -1.0, -1.55, -1.4, -1.6, -1.55, -1.35, -1.1,
            -1.1, -1.8, -0.6, -0.6, -0.3, -0.15, 0.5, 1.2, 1.05, 0.4,
            0.3, 0.65, -0.9, 0.85, 1.1, 0.55, 0.7, 1.5, 1.45, 1.4,
            1.55, 0.15, 1.35, 0.8, -0.3, -0.2, -0.35, -0.45, -0.8, -0.9,
            -1.1, -1.15, -0.9, -1.2, -0.9, -0.6, -0.45, -0.05, 0.0, -0.1,
            0.55, 0.6, 0.0, 0.0, -0.15, -0.35, -0.2, -0.1]
rw_white = [0.0, 0.35, 0.3, 0.4, 0.5, 0.75, 0.6, 0.45, 0.0, 0.0,
            -0.1, -0.6, -0.4, -0.5, -0.35, -0.25, -0.45, -0.5, -0.75, 0.0,
            -0.7, -1.0, -0.95, -1.2, -1.05, -1.25, -1.2, -1.2, -1.1, -0.7,
            -1.05, -0.95, -1.1, -0.95, -0.5, -0.3, -0.05, 0.0, -0.4, 0.0,
            0.0, 0.0, 0.2, 0.25, 0.25, 0.15, 0.1, 0.1, 0.15, -0.1,
            -0.1, -0.1, -0.05, -0.1, -0.2, -0.8, 0.0, 0.0, 0.0, 0.0,
            -0.1, -0.25, -0.4, -0.3, -0.15, -0.2, 0.0, -0.1, 0.0, 0.0,
            0.0, 0.0, 0.0, 0.0, 0.0, 0.05, 0.05, 0.0, 0.0, 0.05,
            0.0, 0.0, 0.05, 0.05, 0.0, 0.0, 0.0, 0.0]
rw_line = [2.1, 1.0, 1.8, 1.9, 1.7, 1.6, 1.4, 1.8, 0.6, -0.6,
           -2.3, -1.85, -1.4, -0.65, -0.6, -0.1, 1.15, 0.7, 0.9, 0.5,
           -0.4, -1.2, -1.55, -1.45, -1.3, -1.2, -1.45, -2.0, -2.35, -2.1,
           -1.45, -0.9, -1.2, -1.2, -0.95, -1.0, -0.75, -0.35, -0.1, 0.5,
           0.05, 0.5, 0.9, 1.3, 1.5, 1.7, 2.1, 3.0, 2.8, 1.8,
           1.0, -1.0, -3.35, -2.4, -1.3, -0.8, -0.25, 0.35, 0.7, 1.0,
           1.65, 1.0, 0.5, 0.9, 1.0, 0.4, 0.15, 0.1, 0.15, 0.15,
           0.1, 0.0, -0.1, 0.1, 0.35, 0.1, -0.1, 0.3, 0.45, 0.3,
           0.45, 0.2, 0.0, -0.05, 0.1, 0.25, 0.5, 0.75]

series_colors = ["#000000", "#F79646", "#C0504D", "#4F81BD", "#9BBB59", "#FFFFFF"]

panels = [
    ("The United States", [us_black, us_orange, us_red, us_blue, us_green, us_white], us_line,
     (-6, 6), range(-6, 7, 2), (32, 38.3, 542, 220)),
    ("Europe", [eu_black, eu_orange, eu_red, eu_blue, eu_green, eu_white], eu_line,
     (-6, 5), range(-6, 6), (686, 38.3, 1196, 220)),
    ("Japan", [jp_black, jp_orange, jp_red, jp_blue, jp_green, jp_white], jp_line,
     (-6, 6), range(-6, 7, 2), (32, 335, 542, 515)),
    ("China", [cn_black, cn_orange, cn_red, cn_blue, cn_green, cn_white], cn_line,
     (-6, 5), range(-6, 6), (685, 335, 1195, 512.3)),
    ("The United Kingdom", [uk_black, uk_orange, uk_red, uk_blue, uk_green, uk_white], uk_line,
     (-6, 5), range(-6, 6), (32, 632.3, 542, 811.3)),
    ("The rest of the world", [rw_black, rw_orange, rw_red, rw_blue, rw_green, rw_white], rw_line,
     (-5, 4), range(-5, 5), (684.3, 634.7, 1194, 824.7)),
]

W, H = 1207, 851
fig = plt.figure(figsize=(W / 100, H / 100), dpi=100)

for title, comps, line, ylim, yticks, (x0, y0, x1, y1) in panels:
    ax = fig.add_axes([x0 / W, 1 - y1 / H, (x1 - x0) / W, (y1 - y0) / H])
    x = np.arange(len(quarters))
    pos_base = np.zeros(len(quarters))
    neg_base = np.zeros(len(quarters))
    for vals, col in zip(comps, series_colors):
        v = np.asarray(vals, dtype=float)
        base = np.where(v >= 0, pos_base, neg_base)
        if col == "#000000":
            # the dark series shows as separated stripes
            ax.bar(x, v, bottom=base, width=0.55, color=col, edgecolor=col,
                   linewidth=0.3, zorder=2)
        else:
            edge = "#000000" if col == "#FFFFFF" else "#3c3c3c"
            ax.bar(x, v, bottom=base, width=0.86, color=col, edgecolor=edge,
                   linewidth=0.6, zorder=2)
        pos_base = pos_base + np.clip(v, 0, None)
        neg_base = neg_base + np.clip(v, None, 0)
    ax.axhline(0, color="#8a8a8a", lw=1.3, zorder=3)
    ax.plot(x, line, color="black", lw=1.7, zorder=4)

    ax.set_xlim(-0.5, len(quarters) - 0.5)
    ax.set_ylim(*ylim)
    ax.set_yticks(list(yticks))
    ax.set_xticks(range(0, len(quarters), 12))
    ax.set_xticklabels(quarters[::12])
    for s in ("top", "right", "bottom"):
        ax.spines[s].set_visible(False)
    ax.spines["left"].set_color("#8a8a8a")
    ax.spines["left"].set_linewidth(1.0)
    ax.tick_params(axis="y", direction="out", length=4, width=1, color="#8a8a8a",
                   labelsize=10.5, pad=4)
    ax.tick_params(axis="x", length=0, labelsize=10.5, pad=5)
    ax.set_title(title, fontsize=13, pad=14)

fig.savefig("out.png", dpi=100)
